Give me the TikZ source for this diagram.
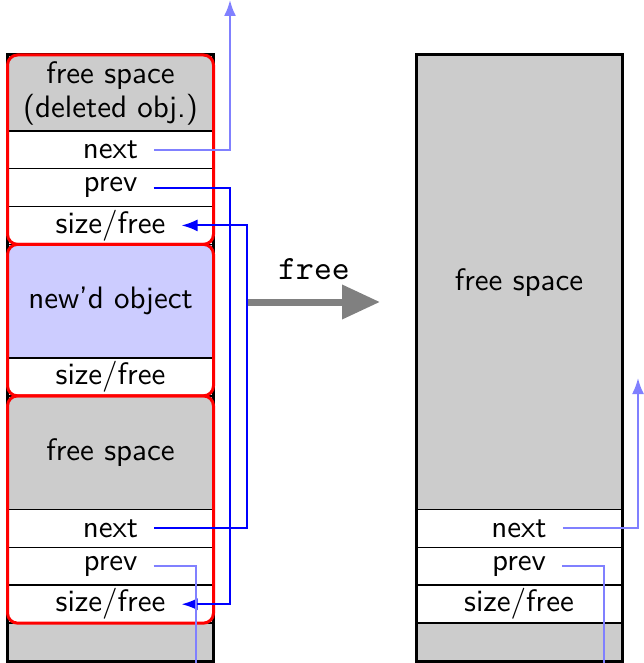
\documentclass[tikz,border=0pt]{standalone}
\usetikzlibrary{arrows.meta}
\definecolor{cellgray}{HTML}{CCCCCC}
\definecolor{objblue}{HTML}{CCCCFF}
\definecolor{ptrlight}{HTML}{8080FF}
\definecolor{arrowgray}{HTML}{808080}
% 10pt design sizes of Latin Modern, scaled up
\font\cellfont="[lmsans10-regular.otf]:mapping=tex-text" at 31pt
\font\opfont="[lmmono10-regular.otf]" at 34pt
\begin{document}
\begin{tikzpicture}[x=1pt,y=-1pt,
  cell/.style={draw=black, line width=1.6pt},
  lbl/.style={inner xsep=16pt, inner ysep=0pt, font=\cellfont},
  blk/.style={draw=red, line width=3pt, rounded corners=10pt},
  ptr/.style={draw=blue, line width=2pt},
  ptrl/.style={draw=ptrlight, line width=2pt},
  tip/.style={-{Latex[length=16pt,width=12pt]}}
]
\useasboundingbox (0,0) rectangle (644,663);

% ---- heap before: left column ----
\draw[cell, fill=cellgray] (7.5,55)      rectangle (213.5,130.75);
\draw[cell, fill=white]    (7.5,130.75)  rectangle (213.5,168.625);
\draw[cell, fill=white]    (7.5,168.625) rectangle (213.5,206.5);
\draw[cell, fill=white]    (7.5,206.5)   rectangle (213.5,244.375);
\draw[cell, fill=objblue]  (7.5,244.375) rectangle (213.5,358);
\draw[cell, fill=white]    (7.5,358)     rectangle (213.5,395.875);
\draw[cell, fill=cellgray] (7.5,395.875) rectangle (213.5,509.5);
\draw[cell, fill=white]    (7.5,509.5)   rectangle (213.5,547.375);
\draw[cell, fill=white]    (7.5,547.375) rectangle (213.5,585.25);
\draw[cell, fill=white]    (7.5,585.25)  rectangle (213.5,623.125);
\draw[cell, fill=cellgray] (7.5,623.125) rectangle (213.5,661);
\draw[line width=3pt] (7.5,55) rectangle (213.5,661);

% block outlines
\draw[blk] (7.5,55)      rectangle (213.5,244.375);
\draw[blk] (7.5,244.375) rectangle (213.5,395.875);
\draw[blk] (7.5,395.875) rectangle (213.5,623.125);

% ---- heap after: right column ----
\draw[cell, fill=cellgray] (416,55)      rectangle (622,509.5);
\draw[cell, fill=white]    (416,509.5)   rectangle (622,547.375);
\draw[cell, fill=white]    (416,547.375) rectangle (622,585.25);
\draw[cell, fill=white]    (416,585.25)  rectangle (622,623.125);
\draw[cell, fill=cellgray] (416,623.125) rectangle (622,661);
\draw[line width=3pt] (416,55) rectangle (622,661);

% ---- labels ----
\node[lbl, align=center] (fs1) at (110.5,93.5) {free space\\[3pt](deleted obj.)};
\node[lbl] (next1) at (110.5,149.7) {next};
\node[lbl] (prev1) at (110.5,187.6) {prev};
\node[lbl] (sf1)   at (110.5,225.4) {size/free};
\node[lbl] (obj)   at (110.5,301.2) {new'd object};
\node[lbl] (sf2)   at (110.5,377)   {size/free};
\node[lbl] (fs2)   at (110.5,452.7) {free space};
\node[lbl] (next2) at (110.5,528.4) {next};
\node[lbl] (prev2) at (110.5,566.3) {prev};
\node[lbl] (sf3)   at (110.5,604.2) {size/free};

\node[lbl] (fs3)   at (519,282.25) {free space};
\node[lbl] (next3) at (519,528.4)  {next};
\node[lbl] (prev3) at (519,566.3)  {prev};
\node[lbl] (sf4)   at (519,604.2)  {size/free};

% ---- free-list pointers ----
\coordinate (upL)  at (230,0);
\coordinate (colA) at (230,0);
\coordinate (colB) at (246.5,0);
\coordinate (dnL)  at (196,663);
\coordinate (upR)  at (638,378);
\coordinate (dnR)  at (604,663);

\draw[ptrl, tip] (next1.east) -| (upL);
\draw[ptr, tip] (prev1.east) -- (prev1.east -| colA) -- (sf3.east -| colA) -- (sf3.east);
\draw[ptr, tip] (next2.east) -- (next2.east -| colB) -- (sf1.east -| colB) -- (sf1.east);
\draw[ptrl] (prev2.east) -| (dnL);
\draw[ptrl, tip] (next3.east) -| (upR);
\draw[ptrl] (prev3.east) -| (dnR);

% ---- the free operation ----
\coordinate (fa) at (248,302);
\coordinate (fb) at (380,302);
\draw[line width=7pt, arrowgray, -{Triangle[length=38pt,width=33pt]}] (fa) -- (fb)
  node[midway, above=19pt, inner sep=0pt, text=black, font=\opfont] (fl) {free};
\end{tikzpicture}
\end{document}
